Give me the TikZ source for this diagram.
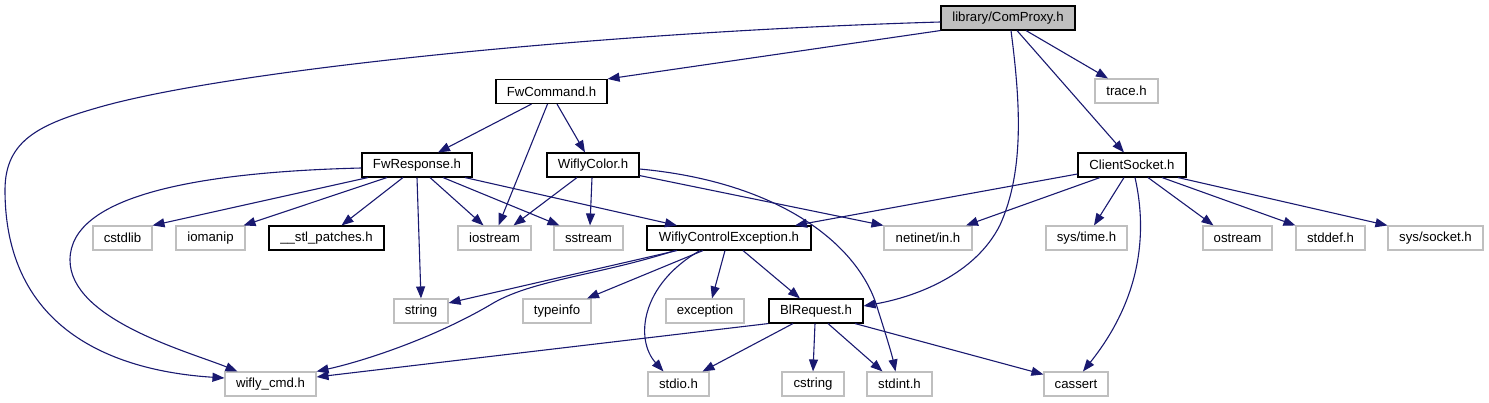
\documentclass[tikz,border=0pt]{standalone}
\usepackage{fontspec}
\setmainfont{Liberation Sans}
\usetikzlibrary{arrows.meta}
\definecolor{edgec}{HTML}{191970}
\definecolor{grayb}{HTML}{BFBFBF}
\tikzset{
  box/.style={draw=grayb, line width=1.1pt, minimum height=24pt, inner sep=0pt, font=\fontsize{13.2}{15}\selectfont, text=black},
  dbox/.style={box, draw=black},
  edge/.style={draw=edgec, line width=1.1pt, -{Triangle[length=12pt,width=9pt]}}
}
\begin{document}
\begin{tikzpicture}[x=1pt,y=-1pt]
\useasboundingbox (0,0) rectangle (1489,403);
% nodes
\node[dbox, fill=grayb, minimum width=134pt] (cp) at (1008,18) {library/ComProxy.h};
\node[dbox, minimum width=111pt] (fc) at (551.5,91.5) {FwCommand.h};
\node[box, minimum width=63pt] (tr) at (1126.5,91) {trace.h};
\node[dbox, minimum width=110pt] (fr) at (417,165) {FwResponse.h};
\node[dbox, minimum width=92pt] (wc) at (593,165) {WiflyColor.h};
\node[dbox, minimum width=108pt] (cs) at (1132,165) {ClientSocket.h};
\node[box, minimum width=59pt] (cstdlib) at (122.5,238) {cstdlib};
\node[box, minimum width=69pt] (iomanip) at (210.5,238) {iomanip};
\node[dbox, minimum width=115pt] (stl) at (326.5,238) {\_\_stl\_patches.h};
\node[box, minimum width=73pt] (iostream) at (494.5,238) {iostream};
\node[box, minimum width=69pt] (sstream) at (588.5,238) {sstream};
\node[dbox, minimum width=164pt] (wce) at (729,238) {WiflyControlException.h};
\node[box, minimum width=88pt] (netin) at (928,238) {netinet/in.h};
\node[box, minimum width=81pt] (systime) at (1086.5,238) {sys/time.h};
\node[box, minimum width=69pt] (ostream) at (1237.5,238) {ostream};
\node[box, minimum width=69pt] (stddef) at (1330.5,238) {stddef.h};
\node[box, minimum width=95pt] (syssock) at (1435.5,238) {sys/socket.h};
\node[box, minimum width=54pt] (string) at (421,311) {string};
\node[box, minimum width=68pt] (typeinfo) at (557,311) {typeinfo};
\node[box, minimum width=78pt] (exception) at (705,311) {exception};
\node[dbox, minimum width=94pt] (blr) at (816,311) {BlRequest.h};
\node[box, minimum width=91pt] (wcmd) at (270.5,384) {wifly\_cmd.h};
\node[box, minimum width=61pt] (stdio) at (678.5,384) {stdio.h};
\node[box, minimum width=62pt] (cstring) at (813,384) {cstring};
\node[box, minimum width=65pt] (stdint) at (899.5,384) {stdint.h};
\node[box, minimum width=64pt] (cassert) at (1076,384) {cassert};
% edges from ComProxy
\draw[edge] ([yshift=-4]cp.west) .. controls (600,32) and (230,70) .. (100,107)
  .. controls (40,124) and (5,140) .. (5,190)
  .. controls (5,340) and (130,372) .. ([yshift=6]wcmd.west);
\draw[edge] (cp.south west) -- (fc.north east);
\draw[edge] ([xshift=3]cp.south) .. controls (1020,100) and (1025,170) .. (1000,225)
  .. controls (975,275) and (915,297) .. ([yshift=5]blr.east);
\draw[edge] ([xshift=9]cp.south) -- ([xshift=-8]cs.north);
\draw[edge] ([xshift=18]cp.south) -- ([xshift=-18.5]tr.north);
% FwCommand
\draw[edge] ([xshift=-20]fc.south) -- ([xshift=21]fr.north);
\draw[edge] ([xshift=-4]fc.south) -- ([xshift=4]iostream.north);
\draw[edge] ([xshift=5.5]fc.south) -- ([xshift=-8]wc.north);
% FwResponse
\draw[edge] ([yshift=-3]fr.west) .. controls (200,172) and (70,195) .. (70,260)
  .. controls (70,320) and (190,352) .. ([xshift=-33]wcmd.north);
\draw[edge] ([xshift=-49]fr.south) -- (cstdlib.north east);
\draw[edge] ([xshift=-30]fr.south) -- ([xshift=33]iomanip.north);
\draw[edge] ([xshift=-14]fr.south) -- ([xshift=15]stl.north);
\draw[edge] (fr.south) -- (string.north);
\draw[edge] ([xshift=13]fr.south) -- ([xshift=-11]iostream.north);
\draw[edge] ([xshift=26]fr.south) -- ([xshift=-29]sstream.north);
\draw[edge] ([xshift=48]fr.south) -- ([xshift=-52]wce.north);
% WiflyColor
\draw[edge] ([xshift=-16]wc.south) -- ([xshift=19]iostream.north);
\draw[edge] ([xshift=-1]wc.south) -- ([xshift=1.5]sstream.north);
\draw[edge] ([yshift=2]wc.south east) -- (netin.north west);
\draw[edge] ([yshift=-4]wc.east) .. controls (780,182) and (860,245) .. (878,310)
  .. controls (886,335) and (892,355) .. ([xshift=-4]stdint.north);
% ClientSocket
\draw[edge] ([yshift=-9]cs.west) -- ([xshift=66]wce.north);
\draw[edge] ([xshift=-32]cs.south) -- ([xshift=38]netin.north);
\draw[edge] ([xshift=-8]cs.south) -- ([xshift=7.5]systime.north);
\draw[edge] ([xshift=16]cs.south) -- ([xshift=-24]ostream.north);
\draw[edge] ([xshift=30]cs.south) -- (stddef.north west);
\draw[edge] ([xshift=46]cs.south) -- (syssock.north west);
\draw[edge] ([xshift=3]cs.south) .. controls (1148,235) and (1140,300) .. ([xshift=7]cassert.north);
% WiflyControlException
\draw[edge] ([xshift=-52]wce.south) -- ([yshift=8]string.east);
\draw[edge] ([xshift=-54]wce.south) .. controls (600,275) and (530,280) .. (490,305)
  .. controls (430,340) and (360,362) .. (wcmd.north east);
\draw[edge] ([xshift=-26]wce.south) -- ([xshift=30]typeinfo.north);
\draw[edge] ([xshift=-29]wce.south) .. controls (640,285) and (635,340) .. ([xshift=-15]stdio.north);
\draw[edge] ([xshift=-4]wce.south) -- ([xshift=7]exception.north);
\draw[edge] ([xshift=14]wce.south) -- ([xshift=-16]blr.north);
% BlRequest
\draw[edge] (blr.south west) -- ([yshift=7]wcmd.east);
\draw[edge] ([xshift=-23]blr.south) -- ([xshift=24]stdio.north);
\draw[edge] ([xshift=-1]blr.south) -- (cstring.north);
\draw[edge] ([xshift=12]blr.south) -- ([xshift=-17]stdint.north);
\draw[edge] ([xshift=39]blr.south) -- ([yshift=-3]cassert.north west);
\end{tikzpicture}
\end{document}
